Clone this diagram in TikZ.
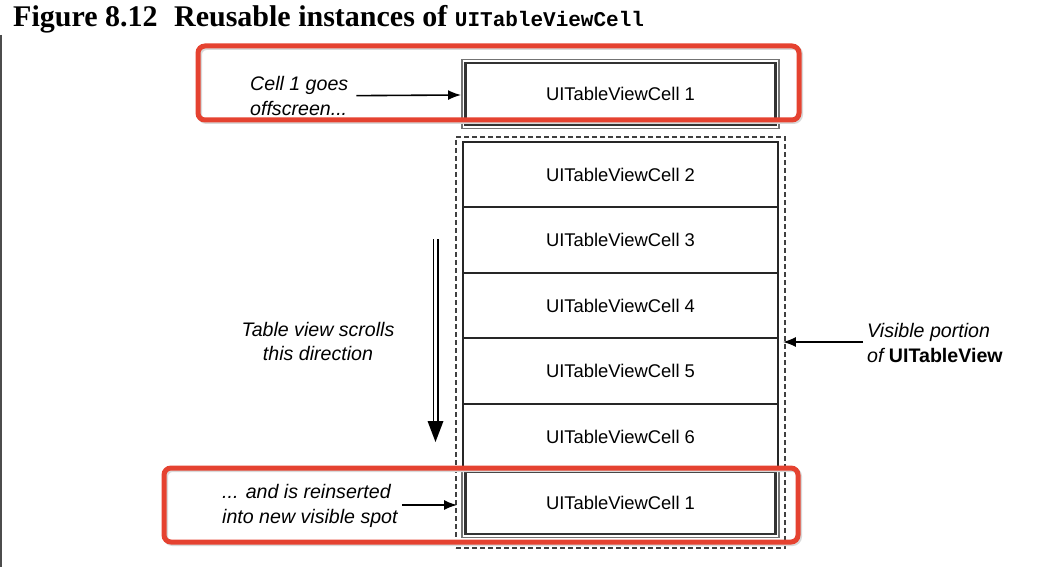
\documentclass[tikz,border=0pt]{standalone}
\usepackage{fontspec}
\setmainfont{Liberation Serif}
\setsansfont{Liberation Sans}
\setmonofont{Liberation Mono}
\usetikzlibrary{arrows.meta,fit}
\definecolor{hlred}{RGB}{229,66,48}
\tikzset{%
  tcell/.style={draw=black!85,line width=1.9pt,minimum width=315pt,minimum height=65.5pt,inner sep=0,font=\sffamily\fontsize{18.4}{22}\selectfont},
  reusecell/.style={tcell,draw=black!80,line width=2.2pt,minimum width=310pt,minimum height=62pt},
  cellframe/.style={draw=black!55,line width=1.5pt,inner sep=2.6pt},
  viewframe/.style={draw=black!75,line width=1.8pt,dash pattern=on 5pt off 3pt,minimum width=329pt,minimum height=411pt},
  note/.style={inner sep=0,align=left,font=\sffamily\itshape\fontsize{19.6}{24.5}\selectfont},
  callout/.style={draw=black,line width=1.6pt,-{Latex[length=13pt,width=10pt]}},
  hlbox/.style={draw=hlred,line width=5pt,rounded corners=7pt}
}
\begin{document}
\begin{tikzpicture}[x=1pt,y=-1pt]
  \useasboundingbox (0,0) rectangle (1050,567);
  \draw[black!70,line width=2pt] (1,35) -- (1,567);
  \node[anchor=base west,inner sep=0,font=\bfseries\fontsize{30}{30}\selectfont] (title) at (13,27)
    {Figure 8.12\hspace{0.55em}Reusable instances of {\ttfamily\bfseries\fontsize{21}{21}\selectfont UITableViewCell}};
  \node[viewframe] (visible) at (620.5,342.5) {};
  \path
    (620.5,94) node[reusecell] (top1) {UITableViewCell 1}
    (620.5,503) node[reusecell] (bot1) {UITableViewCell 1};
  \node[cellframe,fit=(top1)] (top1frame) {};
  \node[cellframe,fit=(bot1)] (bot1frame) {};
  \foreach \i in {2,...,6}
    \node[tcell] (cell\i) at (620.5,{174.5+(\i-2)*65.5}) {UITableViewCell \i};
  \path
    (250,96) node[note,anchor=west] (offlabel) {Cell 1 goes\\offscreen...}
    (318,341.5) node[note,align=center] (scrolllabel) {Table view scrolls\\this direction}
    (867,343) node[note,anchor=west] (portionlabel) {Visible portion\\of {\upshape\bfseries UITableView}}
    (222,506) node[note,anchor=west] (reinlabel) {... and is reinserted\\into new visible spot};
  \draw[callout,shorten <=8pt] (offlabel) -- (top1frame);
  \draw[callout,shorten <=4pt,shorten >=4pt] (reinlabel.east |- 0,505) -- (bot1frame.west |- 0,505);
  \draw[callout,shorten <=4pt,shorten >=-3pt] (portionlabel.west |- 0,342) -- (visible.east |- 0,342);
  \coordinate (scrolltop) at (435.5,239);
  \coordinate (scrollneck) at (435.5,421);
  \coordinate (scrollend) at (435.5,442);
  \draw[black,line width=1.6pt,double=white,double distance=2.8pt] (scrolltop) -- (scrollneck);
  \fill[black] ([xshift=-8pt]scrollneck) -- ([xshift=8pt]scrollneck) -- (scrollend) -- cycle;
  \draw[hlbox,black!15,transform canvas={xshift=1.5pt,yshift=-1.5pt}] (198,46) rectangle (799,120);
  \draw[hlbox] (198,46) rectangle (799,120);
  \draw[hlbox,black!15,transform canvas={xshift=1.5pt,yshift=-1.5pt}] (164,468) rectangle (798,542);
  \draw[hlbox] (164,468) rectangle (798,542);
\end{tikzpicture}
\end{document}
